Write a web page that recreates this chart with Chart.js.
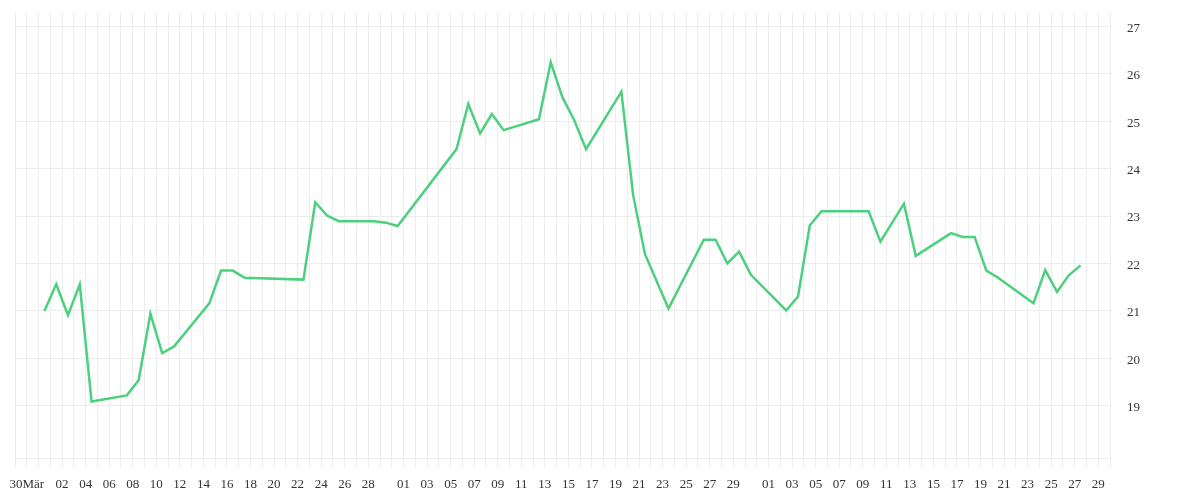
<!DOCTYPE html>
<html>
<head>
<meta charset="utf-8">
<script src="https://cdn.jsdelivr.net/npm/chart.js@4"></script>
<style>
  html, body { margin: 0; padding: 0; background: #fff; }
  canvas { display: block; }
</style>
</head>
<body>
<canvas id="chart" width="1200" height="500"></canvas>
<script>
// trading days shown on the chart
const dates = [
    '2025-03-31', '2025-04-01', '2025-04-02', '2025-04-03', '2025-04-04',
    '2025-04-07', '2025-04-08', '2025-04-09', '2025-04-10', '2025-04-11',
    '2025-04-14', '2025-04-15', '2025-04-16', '2025-04-17',
    '2025-04-22', '2025-04-23', '2025-04-24', '2025-04-25',
    '2025-04-28', '2025-04-29', '2025-04-30',
    '2025-05-05', '2025-05-06', '2025-05-07', '2025-05-08', '2025-05-09',
    '2025-05-12', '2025-05-13', '2025-05-14', '2025-05-15', '2025-05-16',
    '2025-05-19', '2025-05-20', '2025-05-21', '2025-05-23',
    '2025-05-26', '2025-05-27', '2025-05-28', '2025-05-29', '2025-05-30',
    '2025-06-02', '2025-06-03', '2025-06-04', '2025-06-05',
    '2025-06-09', '2025-06-10', '2025-06-12', '2025-06-13',
    '2025-06-16', '2025-06-17', '2025-06-18', '2025-06-19', '2025-06-20',
    '2025-06-23', '2025-06-24', '2025-06-25', '2025-06-26', '2025-06-27'
];

const prices = [
    21.00, 21.56, 20.91, 21.56, 19.09,
    19.22, 19.54, 20.94, 20.11, 20.25,
    21.16, 21.85, 21.85, 21.70,
    21.66, 23.29, 23.01, 22.89,
    22.89, 22.86, 22.79,
    24.41, 25.36, 24.74, 25.15, 24.81,
    25.04, 26.24, 25.50, 25.02, 24.41,
    25.62, 23.44, 22.20, 21.05,
    22.50, 22.50, 22.00, 22.25, 21.76,
    21.01, 21.30, 22.80, 23.10,
    23.10, 22.46, 23.26, 22.16,
    22.64, 22.56, 22.56, 21.85, 21.70,
    21.16, 21.86, 21.40, 21.75, 21.96
];

const yTicks = [19, 20, 21, 22, 23, 24, 25, 26, 27];

// x axis: day 0 = 29 Mar 2025, one grid line per day
const firstDay = '2025-03-29';
const lastDayIndex = 93;
const xTickPos = [1, 4, 6, 8, 10, 12, 14, 16, 18, 20, 22, 24, 26, 28, 30,
    33, 35, 37, 39, 41, 43, 45, 47, 49, 51, 53, 55, 57, 59, 61,
    64, 66, 68, 70, 72, 74, 76, 78, 80, 82, 84, 86, 88, 90, 92];
const xTickText = ['30Mär', '02', '04', '06', '08', '10', '12', '14', '16', '18', '20', '22', '24', '26', '28',
    '01', '03', '05', '07', '09', '11', '13', '15', '17', '19', '21', '23', '25', '27', '29',
    '01', '03', '05', '07', '09', '11', '13', '15', '17', '19', '21', '23', '25', '27', '29'];

const DAY = 86400000;
const day0 = Date.parse(firstDay);
// points sit at midday
const points = dates.map((d, i) => ({ x: (Date.parse(d) - day0) / DAY + 0.5, y: prices[i] }));

const gridColor = '#ededed';
const labelFont = { family: 'Liberation Serif', size: 13 };
const labelColor = '#333';

const noPad = (s) => {
    s.paddingTop = 0; s.paddingBottom = 0;
    s.paddingLeft = 0; s.paddingRight = 0;
};

new Chart(document.getElementById('chart').getContext('2d'), {
    type: 'line',
    data: {
        datasets: [{
            data: points,
            borderColor: '#4bd07d',
            borderWidth: 2.5,
            pointRadius: 0,
            tension: 0,
            fill: false
        }]
    },
    options: {
        responsive: false,
        animation: false,
        devicePixelRatio: 1,
        layout: { padding: { left: 15, top: 12, right: 0, bottom: 0 } },
        plugins: { legend: { display: false }, tooltip: { enabled: false } },
        scales: {
            x: {
                type: 'linear',
                min: 0,
                max: lastDayIndex,
                afterBuildTicks: (s) => {
                    const t = [];
                    for (let i = 0; i <= lastDayIndex; i++) t.push({ value: i });
                    s.ticks = t;
                },
                afterFit: (s) => { s.height = 42; noPad(s); },
                grid: { color: gridColor, lineWidth: 1, tickLength: 10 },
                border: { display: true, color: gridColor },
                ticks: {
                    autoSkip: false,
                    maxRotation: 0,
                    padding: 9,
                    font: labelFont,
                    color: labelColor,
                    callback: (v) => {
                        const k = xTickPos.indexOf(v);
                        return k >= 0 ? xTickText[k] : '';
                    }
                }
            },
            y: {
                position: 'right',
                min: 17.9,
                max: 27.3,
                afterBuildTicks: (s) => { s.ticks = yTicks.map(v => ({ value: v })); },
                afterFit: (s) => { s.width = 90; noPad(s); },
                grid: { color: gridColor, lineWidth: 1, drawTicks: false },
                border: { display: false },
                ticks: { padding: 17, labelOffset: 2, font: labelFont, color: labelColor }
            }
        }
    }
});
</script>
</body>
</html>
